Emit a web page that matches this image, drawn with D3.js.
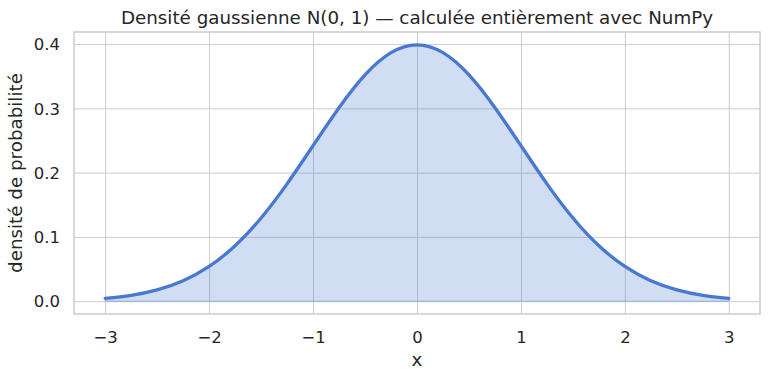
<!DOCTYPE html>
<html>
<head>
<meta charset="utf-8">
<script src="https://cdn.jsdelivr.net/npm/d3@7"></script>
<style>
  body { margin: 0; background: #ffffff; }
  svg { font-family: "DejaVu Sans", sans-serif; }
</style>
</head>
<body>
<svg id="chart" width="769" height="380"></svg>
<script>

// =========
// Data
// =========

var x_values = [-3, -2.75, -2.5, -2.25, -2, -1.75, -1.5, -1.25, -1, -0.75, -0.5, -0.25,
                0, 0.25, 0.5, 0.75, 1, 1.25, 1.5, 1.75, 2, 2.25, 2.5, 2.75, 3];
var density = [0.0044, 0.0091, 0.0175, 0.0317, 0.054, 0.0863, 0.1295, 0.1826, 0.242, 0.3011, 0.3521, 0.3867,
               0.3989, 0.3867, 0.3521, 0.3011, 0.242, 0.1826, 0.1295, 0.0863, 0.054, 0.0317, 0.0175, 0.0091, 0.0044];
var x_ticks = [-3, -2, -1, 0, 1, 2, 3];
var y_ticks = [0.0, 0.1, 0.2, 0.3, 0.4];

var title = 'Densité gaussienne N(0, 1) — calculée entièrement avec NumPy';
var x_label = 'x';
var y_label = 'densité de probabilité';

// =========
// Layout
// =========

var svg = d3.select('#chart');
var padding = {top: 32, left: 74, right: 9, bottom: 66};
var width = 769 - padding.left - padding.right;
var height = 380 - padding.top - padding.bottom;

var x_scale = d3.scaleLinear().domain([-3.3, 3.3]).range([0, width]);
var y_scale = d3.scaleLinear().domain([-0.01995, 0.41885]).range([height, 0]);

var points = x_values.map(function(x, i){ return {x: x, y: density[i]}; });

var plot = svg.append('g')
    .attr('transform', 'translate(' + padding.left + ',' + padding.top + ')');

// grid
var x_axis = plot.append('g')
    .attr('transform', 'translate(0,' + height + ')')
    .call(d3.axisBottom(x_scale).tickValues(x_ticks).tickSize(-height)
          .tickFormat(function(t){ return t < 0 ? '\u2212' + Math.abs(t) : t; }));
var y_axis = plot.append('g')
    .call(d3.axisLeft(y_scale).tickValues(y_ticks).tickSize(-width).tickFormat(d3.format('.1f')));

[x_axis, y_axis].forEach(function(ax){
    ax.select('.domain').remove();
    ax.selectAll('.tick line').attr('stroke', '#cccccc').attr('stroke-width', 1);
    ax.selectAll('.tick text')
	.attr('fill', '#262626')
	.style('font-size', '16.5px')
	.style('font-family', '"DejaVu Sans", sans-serif');
});
x_axis.selectAll('.tick text').attr('dy', '0.35em').attr('y', 23);
y_axis.selectAll('.tick text').attr('x', -14).attr('dy', '0.35em');

// filled area
var area = d3.area()
    .x(function(d){ return x_scale(d.x); })
    .y0(y_scale(0))
    .y1(function(d){ return y_scale(d.y); })
    .curve(d3.curveNatural);

plot.append('path')
    .datum(points)
    .attr('d', area)
    .attr('fill', '#4878d0')
    .attr('fill-opacity', 0.25)
    .attr('stroke', '#4878d0')
    .attr('stroke-opacity', 0.4)
    .attr('stroke-width', 1);

// curve
var line = d3.line()
    .x(function(d){ return x_scale(d.x); })
    .y(function(d){ return y_scale(d.y); })
    .curve(d3.curveNatural);

plot.append('path')
    .datum(points)
    .attr('d', line)
    .attr('fill', 'none')
    .attr('stroke', '#4878d0')
    .attr('stroke-width', 3.3)
    .attr('stroke-linecap', 'round');

// frame
plot.append('rect')
    .attr('width', width)
    .attr('height', height)
    .attr('fill', 'none')
    .attr('stroke', '#cccccc')
    .attr('stroke-width', 1.5);

// =========
// Text
// =========

svg.append('text')
    .attr('x', padding.left + width / 2)
    .attr('y', 18)
    .attr('dy', '0.35em')
    .attr('text-anchor', 'middle')
    .attr('fill', '#262626')
    .style('font-size', '18.3px')
    .text(title);

svg.append('text')
    .attr('x', padding.left + width / 2)
    .attr('y', 360)
    .attr('dy', '0.35em')
    .attr('text-anchor', 'middle')
    .attr('fill', '#262626')
    .style('font-size', '18.3px')
    .text(x_label);

svg.append('text')
    .attr('transform', 'translate(16,' + (padding.top + height / 2) + ') rotate(-90)')
    .attr('dy', '0.35em')
    .attr('text-anchor', 'middle')
    .attr('fill', '#262626')
    .style('font-size', '18.3px')
    .text(y_label);

</script>
</body>
</html>
